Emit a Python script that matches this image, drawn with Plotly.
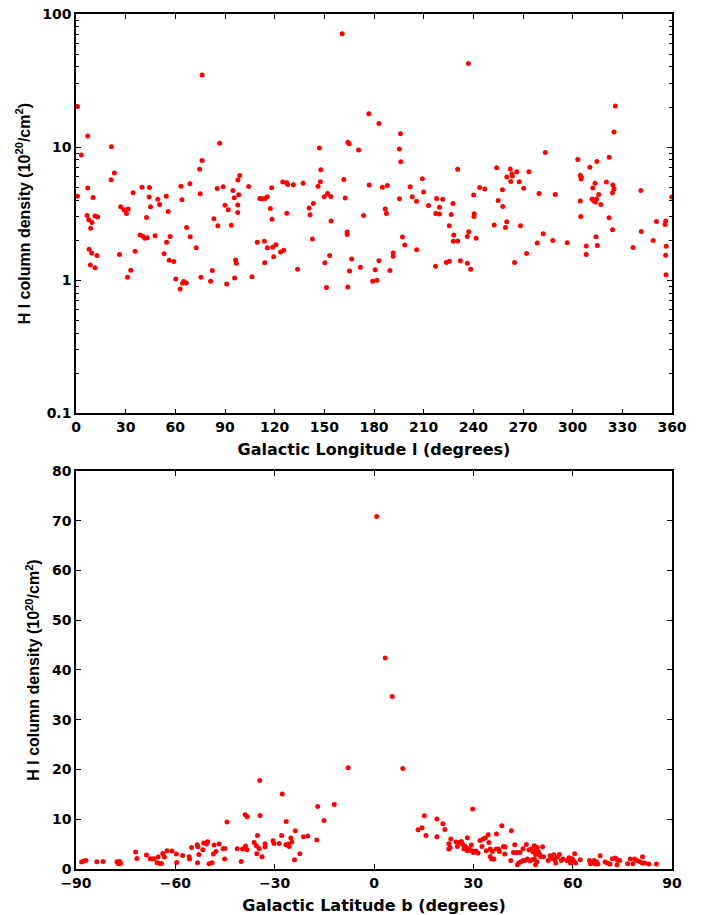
import plotly.graph_objects as go

# ---------------- data: top panel (longitude) ----------------
lon = [0.9, 0.9, 3.2, 6.7, 7.1, 7.1, 7.7, 8.9, 9.7, 10.3, 11.5, 13.1, 7.9, 9.5, 12.7, 8.7, 11.5,
       21.4, 23.2, 21.2, 26.3, 27.0, 29.0, 31.5, 30.5, 31.1, 33.1, 34.5, 35.7, 38.7, 40.5, 41.6, 43.0,
       39.9, 42.6, 44.2, 44.4, 45.0, 47.8, 49.4, 50.5, 53.2, 54.5, 54.7, 55.7, 56.3, 56.9, 59.1, 60.3,
       62.9, 63.4, 64.0, 64.4, 65.0, 66.6, 66.8, 68.8, 69.0, 72.6, 74.7, 75.0, 75.5, 76.1, 76.2, 81.3,
       82.3, 83.3, 85.3, 85.7, 86.8, 88.9, 90.0, 91.0, 92.0, 93.8, 94.8, 95.6, 95.8, 96.4, 96.8, 97.7,
       97.7, 98.3, 97.8, 98.9, 104.3, 106.3, 109.5, 111.0, 112.5, 113.8, 114.0, 114.2, 115.6, 115.6,
       117.4, 118.2, 118.4, 118.8, 119.4, 120.8, 123.6, 124.9, 125.5, 127.3, 127.9, 127.3, 131.3, 133.8,
       137.2, 140.8, 141.4, 142.8, 143.4, 146.2, 147.0, 147.6, 147.9, 149.9, 150.3, 151.3, 151.9, 153.2,
       153.9, 154.1, 160.8, 161.8, 162.6, 163.8, 163.8, 164.2, 164.2, 165.0, 165.2, 166.5, 170.7, 171.8,
       173.7, 176.9, 177.1, 179.2, 180.7, 181.8, 183.0, 183.0, 185.1, 186.8, 187.5, 188.1, 189.6, 191.6,
       191.6, 195.4, 195.3, 196.0, 196.2, 197.2, 198.6, 201.9, 203.1, 205.7, 205.8, 209.2, 210.0, 212.9,
       217.3, 217.2, 217.8, 219.6, 219.6, 221.5, 223.7, 225.5, 225.5, 226.7, 227.7, 228.2, 227.9, 230.6,
       230.5, 232.2, 236.4, 237.2, 236.4, 237.0, 238.4, 240.2, 240.5, 240.4, 241.7, 243.8, 246.9, 252.6,
       254.1, 255.0, 257.6, 257.8, 259.4, 260.2, 260.2, 262.3, 262.6, 263.3, 263.6, 264.9, 266.2, 267.7,
       268.5, 270.4, 272.2, 273.6, 278.6, 279.7, 282.2, 283.5, 288.0, 289.5, 296.7, 303.1, 304.6, 305.2,
       305.1, 304.6, 304.9, 308.2, 308.2, 310.4, 311.7, 312.2, 312.8, 313.5, 313.8, 314.1, 314.6, 314.4,
       314.9, 315.7, 317.0, 320.4, 322.1, 322.0, 324.0, 324.1, 324.3, 325.0, 325.0, 325.8, 336.5, 341.2,
       341.5, 348.6, 350.6, 355.8, 356.2, 356.5, 356.2, 356.4, 359.9]
nhi_lon = [20.2, 4.28, 8.71, 3.06, 12.1, 4.92, 2.84, 2.46, 2.71, 4.18, 3.04, 2.99, 1.71, 1.60, 1.53, 1.30, 1.24,
           10.05, 6.38, 5.68, 1.56, 3.56, 3.38, 3.42, 3.17, 1.05, 1.19, 4.53, 1.65, 2.19, 2.14, 2.07, 2.08,
           5.00, 2.96, 4.21, 4.97, 3.56, 2.16, 4.06, 3.70, 1.58, 4.28, 1.93, 3.28, 1.41, 2.13, 1.38, 1.02,
           0.86, 5.09, 4.02, 0.95, 0.976, 0.954, 2.49, 5.30, 2.12, 1.75, 6.83, 4.46, 1.05, 7.93, 34.8, 0.98,
           1.18, 2.89, 4.88, 2.56, 10.7, 5.03, 3.65, 0.938, 3.38, 2.59, 4.72, 4.16, 1.04, 1.42, 1.34, 3.68,
           3.22, 4.38, 5.65, 6.12, 5.06, 1.06, 1.93, 4.11, 4.09, 1.96, 1.35, 4.11, 4.23, 1.75,
           3.45, 4.94, 2.87, 1.77, 1.50, 1.85, 1.63, 5.46, 1.68, 5.39, 5.23, 3.19, 5.21, 1.21,
           5.36, 3.48, 3.10, 2.04, 3.77, 5.09, 9.83, 5.48, 6.75, 4.23, 1.35, 0.88, 4.48, 1.53,
           4.25, 2.79, 71.1, 5.71, 4.14, 2.30, 2.20, 0.89, 10.87, 10.59, 1.17, 1.44, 9.49, 1.25,
           3.06, 17.8, 5.18, 0.98, 1.20, 1.00, 15.05, 1.40, 5.00, 3.42, 3.17, 5.14, 1.18, 1.60,
           1.51, 4.09, 9.66, 12.6, 7.75, 2.11, 1.84, 5.03, 4.23, 3.91, 1.69, 5.78, 4.59, 3.64,
           3.17, 1.27, 4.11, 3.14, 3.53, 4.06, 1.36, 2.57, 1.39, 3.11, 3.77, 2.19, 1.96, 1.97,
           6.83, 1.40, 2.13, 2.31, 1.34, 42.5, 1.21, 4.36, 3.16, 3.01, 2.07, 4.96, 4.84, 2.60,
           6.99, 3.97, 4.79, 3.58, 2.49, 2.75, 5.95, 6.84, 5.51, 6.28, 6.06, 1.36, 6.52, 5.48,
           2.57, 4.90, 1.59, 6.52, 1.90, 4.49, 2.23, 9.11, 1.99, 4.40, 1.91, 8.07, 6.14, 5.93,
           5.76, 3.93, 3.01, 1.81, 1.56, 7.07, 4.07, 4.92, 3.93, 5.34, 3.86, 2.12, 7.78, 4.07,
           1.82, 4.40, 3.70, 5.46, 8.38, 2.95, 4.53, 2.39, 5.18, 4.84, 13.0, 20.4, 1.76, 4.72,
           2.32, 1.99, 2.76, 2.62, 2.78, 1.80, 1.54, 1.10, 4.22]

# ---------------- data: bottom panel (latitude) ----------------
lat = [-88.3, -87.7, -87.0, -83.7, -81.8, -77.6, -77.2, -76.8, -76.5, -77.4,
       -72.0, -71.6, -68.7, -67.6, -66.9, -66.4, -65.5, -64.7, -64.2, -65.2, -63.8, -63.3, -62.5, -61.0,
       -59.7, -59.6, -57.8, -55.8, -55.7, -55.1, -53.4, -53.2, -53.3, -52.9, -51.7, -51.4, -50.6, -50.2,
       -50.5, -49.8, -48.9, -48.5, -48.3, -47.7, -46.8, -45.6, -45.0, -45.1, -44.4, -41.3, -40.1, -39.7,
       -38.8, -38.4, -38.9, -38.3, -36.2, -35.5, -35.4, -35.2, -34.5, -34.4, -34.7, -33.8, -32.9, -32.9,
       -30.5, -30.2, -28.6, -27.9, -27.7, -26.6, -26.5, -25.9, -25.6, -25.1, -24.8, -24.0, -23.8, -22.4,
       -21.3, -20.0, -17.3, -17.0, -15.1, -12.0, -7.8,
       0.8, 3.4, 5.5, 8.7, 29.8, 15.2, 13.3, 14.5, 15.7, 19.0, 20.8, 21.4, 19.0, 23.2, 22.6, 22.6, 23.0,
       24.8, 25.6, 26.4, 26.8, 25.2, 28.2, 27.6, 27.2, 28.2, 28.6, 29.4, 29.6, 30.0, 30.8, 31.4, 32.0,
       33.0, 33.6, 34.5, 34.7, 32.6, 33.9, 35.1, 35.7, 35.1, 35.5, 36.2, 37.0, 36.9, 37.6, 37.9, 38.6,
       39.1, 39.6, 39.5, 41.5, 42.5, 42.1, 43.1, 44.1, 41.3, 43.3, 43.7, 44.4, 45.0, 45.0, 46.0, 45.6,
       46.3, 47.1, 47.7, 48.4, 46.8, 47.4, 48.0, 48.4, 49.0, 48.8, 49.3, 49.6, 50.0, 50.3, 49.2, 48.8,
       50.9, 51.2, 52.6, 53.2, 53.7, 54.3, 54.6, 55.4, 56.0, 54.9, 56.6, 57.1, 58.3, 58.9, 59.3, 59.9,
       60.4, 59.3, 60.6, 60.9, 62.3, 65.1, 65.8, 66.5, 67.3, 67.6, 65.4, 66.8, 68.3, 69.8, 70.5, 71.3,
       72.0, 72.9, 73.4, 74.2, 73.4, 76.6, 77.4, 78.2, 78.7, 79.4, 80.3, 81.1, 81.0, 81.8, 83.0, 85.3]
nhi_lat = [1.41, 1.61, 1.73, 1.47, 1.53, 1.47, 1.13, 1.53, 1.13, 1.30,
           3.42, 2.13, 2.81, 2.07, 2.01, 2.07, 1.27, 1.13, 1.13, 2.41, 3.14, 2.41, 3.68, 3.62,
           3.02, 1.33, 2.73, 2.47, 2.01, 4.34, 4.88, 4.48, 1.27, 2.93, 3.88, 5.23, 5.03, 5.49,
           5.35, 1.07, 1.27, 3.02, 4.82, 3.54, 5.03, 4.08, 4.14, 2.01, 9.45, 4.08, 1.53, 4.02,
           4.62, 3.88, 10.91, 10.51, 5.35, 4.68, 3.08, 6.75, 17.8, 10.77, 4.14, 2.47, 5.09, 4.48,
           5.69, 5.15, 5.15, 6.75, 15.08, 4.88, 9.57, 5.03, 4.54, 6.23, 5.43, 1.87, 7.70, 3.08,
           6.49, 6.63, 5.83, 12.58, 9.77, 12.98, 20.36,
           70.87, 42.41, 34.69, 20.22, 12.06, 10.71, 7.90, 8.30, 6.75, 10.05, 9.11, 7.96, 6.49, 6.03, 5.09, 4.02, 4.34,
           5.43, 5.29, 5.55, 4.94, 4.54, 6.29, 4.54, 4.02, 3.68, 4.08, 4.82, 3.68, 3.34, 3.62, 3.22, 5.75,
           6.03, 6.23, 6.89, 5.35, 4.54, 3.68, 4.02, 3.54, 2.53, 2.01, 2.01, 7.04, 4.02, 4.02, 3.54, 8.70,
           4.54, 4.42, 3.02, 7.70, 4.88, 3.34, 3.34, 3.34, 1.73, 0.86, 1.21, 1.47, 1.73, 4.08, 4.94, 1.73,
           2.01, 1.67, 1.87, 2.01, 3.82, 4.02, 3.48, 4.68, 4.02, 2.93, 4.34, 3.54, 3.02, 2.53, 1.47, 0.86,
           4.48, 2.47, 1.73, 2.67, 2.13, 2.87, 1.87, 2.41, 2.93, 1.21, 1.73, 2.01, 1.73, 2.27, 1.87, 2.07,
           1.53, 1.21, 3.08, 1.21, 1.87, 1.73, 1.33, 1.73, 1.41, 1.00, 1.07, 1.07, 2.67, 1.41, 1.21, 1.00,
           2.07, 2.21, 1.87, 1.73, 0.86, 1.07, 2.01, 1.07, 2.01, 1.73, 1.47, 2.47, 1.21, 1.21, 1.00, 1.00]

lon_ticks = list(range(0, 361, 30))
lat_ticks = list(range(-90, 91, 30))
log_ticks = [0.1, 1, 10, 100]
log_tick_text = ["0.1", "1", "10", "100"]
lin_ticks = list(range(0, 81, 10))
minor_log = [m * d for d in (0.1, 1, 10) for m in range(2, 10)]

RED = "#ff0000"
tickfont = dict(family="DejaVu Sans", size=14, color="black", weight="bold")
xtitlefont = dict(family="DejaVu Sans", size=16, color="black", weight="bold")
ytitlefont = dict(family="Liberation Sans", size=16, color="black", weight="bold")
ytitle = "H I column density (10<sup>20</sup>/cm<sup>2</sup>)"

fig = go.Figure()
fig.add_trace(go.Scatter(x=lon, y=nhi_lon, mode="markers", xaxis="x", yaxis="y",
                         marker=dict(color=RED, size=5, line=dict(width=0)), showlegend=False))
fig.add_trace(go.Scatter(x=lat, y=nhi_lat, mode="markers", xaxis="x2", yaxis="y2",
                         marker=dict(color=RED, size=5, line=dict(width=0)), showlegend=False))

axis_common = dict(showline=True, linecolor="black", linewidth=1.5, mirror="ticks",
                   ticks="inside", ticklen=5, tickwidth=1, tickcolor="black",
                   showgrid=False, zeroline=False, tickfont=tickfont, automargin=False)

fig.update_layout(
    width=713, height=915,
    margin=dict(l=76, r=41, t=14, b=46),
    paper_bgcolor="white", plot_bgcolor="white",
    xaxis=dict(domain=[0, 1], anchor="y", range=[0, 360], tickvals=lon_ticks,
               title=dict(text="Galactic Longitude l (degrees)", font=xtitlefont, standoff=10),
               **axis_common),
    yaxis=dict(domain=[0.533, 1], anchor="x", type="log", range=[-1, 2],
               tickvals=log_ticks, ticktext=log_tick_text,
               minor=dict(tickvals=minor_log, ticks="inside", ticklen=3, tickcolor="black", showgrid=False),
               title=dict(text=ytitle, font=ytitlefont, standoff=8),
               **axis_common),
    xaxis2=dict(domain=[0, 1], anchor="y2", range=[-90, 90], tickvals=lat_ticks,
                title=dict(text="Galactic Latitude b (degrees)", font=xtitlefont, standoff=10),
                **axis_common),
    yaxis2=dict(domain=[0, 0.4655], anchor="x2", range=[0, 80], tickvals=lin_ticks,
                title=dict(text=ytitle, font=ytitlefont, standoff=8),
                **axis_common),
)

fig.write_html("out.html")
